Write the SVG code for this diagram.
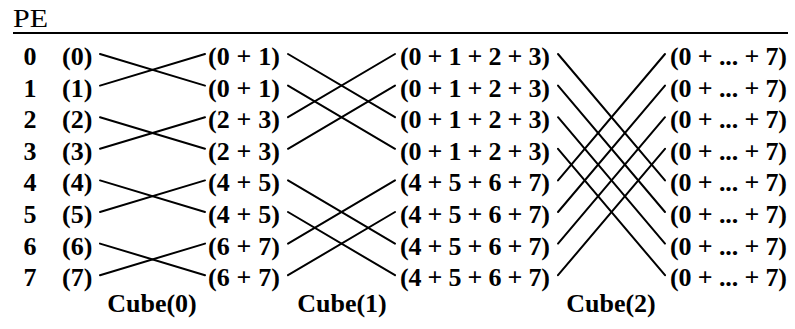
<svg xmlns="http://www.w3.org/2000/svg" width="795" height="329" viewBox="0 0 795 329">
<style>
.t{font-family:"Liberation Serif","Times New Roman",serif;font-weight:bold;font-size:26px;fill:#000}
.pe{font-family:"Liberation Serif","Times New Roman",serif;font-size:26px;fill:#000}
.c{stroke:#000;stroke-width:2;fill:none;stroke-linecap:round}
</style>
<rect width="795" height="329" fill="#fff"/>
<g id="header">
<text class="pe" x="13" y="27" textLength="35" lengthAdjust="spacingAndGlyphs">PE</text>
<line x1="13" y1="33" x2="788" y2="33" stroke="#000" stroke-width="2.2"/>
</g>
<g id="pe-labels" class="t" text-anchor="middle">
<text x="30" y="65">0</text><text x="30" y="96.6">1</text><text x="30" y="128.2">2</text><text x="30" y="159.8">3</text>
<text x="30" y="191.4">4</text><text x="30" y="223">5</text><text x="30" y="254.6">6</text><text x="30" y="286.2">7</text>
</g>
<g id="stage0" class="t">
<text x="62" y="65">(0)</text><text x="62" y="96.6">(1)</text><text x="62" y="128.2">(2)</text><text x="62" y="159.8">(3)</text>
<text x="62" y="191.4">(4)</text><text x="62" y="223">(5)</text><text x="62" y="254.6">(6)</text><text x="62" y="286.2">(7)</text>
</g>
<g id="stage1" class="t">
<text x="208" y="65" textLength="72">(0 + 1)</text><text x="208" y="96.6" textLength="72">(0 + 1)</text>
<text x="208" y="128.2" textLength="72">(2 + 3)</text><text x="208" y="159.8" textLength="72">(2 + 3)</text>
<text x="208" y="191.4" textLength="72">(4 + 5)</text><text x="208" y="223" textLength="72">(4 + 5)</text>
<text x="208" y="254.6" textLength="72">(6 + 7)</text><text x="208" y="286.2" textLength="72">(6 + 7)</text>
</g>
<g id="stage2" class="t">
<text x="400" y="65" textLength="150">(0 + 1 + 2 + 3)</text><text x="400" y="96.6" textLength="150">(0 + 1 + 2 + 3)</text>
<text x="400" y="128.2" textLength="150">(0 + 1 + 2 + 3)</text><text x="400" y="159.8" textLength="150">(0 + 1 + 2 + 3)</text>
<text x="400" y="191.4" textLength="150">(4 + 5 + 6 + 7)</text><text x="400" y="223" textLength="150">(4 + 5 + 6 + 7)</text>
<text x="400" y="254.6" textLength="150">(4 + 5 + 6 + 7)</text><text x="400" y="286.2" textLength="150">(4 + 5 + 6 + 7)</text>
</g>
<g id="stage3" class="t">
<text x="670" y="65" textLength="117">(0 + ... + 7)</text><text x="670" y="96.6" textLength="117">(0 + ... + 7)</text>
<text x="670" y="128.2" textLength="117">(0 + ... + 7)</text><text x="670" y="159.8" textLength="117">(0 + ... + 7)</text>
<text x="670" y="191.4" textLength="117">(0 + ... + 7)</text><text x="670" y="223" textLength="117">(0 + ... + 7)</text>
<text x="670" y="254.6" textLength="117">(0 + ... + 7)</text><text x="670" y="286.2" textLength="117">(0 + ... + 7)</text>
</g>
<g id="cube-labels" class="t" text-anchor="middle">
<text x="152" y="312">Cube(0)</text><text x="342" y="312">Cube(1)</text><text x="611" y="312">Cube(2)</text>
</g>
<g id="connectors" class="c">
<!-- Cube(0): i <-> i xor 1 -->
<line x1="100" y1="54" x2="205" y2="85.6"/><line x1="100" y1="85.6" x2="205" y2="54"/>
<line x1="100" y1="117.2" x2="205" y2="148.8"/><line x1="100" y1="148.8" x2="205" y2="117.2"/>
<line x1="100" y1="180.4" x2="205" y2="212"/><line x1="100" y1="212" x2="205" y2="180.4"/>
<line x1="100" y1="243.6" x2="205" y2="275.2"/><line x1="100" y1="275.2" x2="205" y2="243.6"/>
<!-- Cube(1): i <-> i xor 2 -->
<line x1="288" y1="54" x2="395" y2="117.2"/><line x1="288" y1="85.6" x2="395" y2="148.8"/>
<line x1="288" y1="117.2" x2="395" y2="54"/><line x1="288" y1="148.8" x2="395" y2="85.6"/>
<line x1="288" y1="180.4" x2="395" y2="243.6"/><line x1="288" y1="212" x2="395" y2="275.2"/>
<line x1="288" y1="243.6" x2="395" y2="180.4"/><line x1="288" y1="275.2" x2="395" y2="212"/>
<!-- Cube(2): i <-> i xor 4 -->
<line x1="558" y1="54" x2="665" y2="180.4"/><line x1="558" y1="85.6" x2="665" y2="212"/>
<line x1="558" y1="117.2" x2="665" y2="243.6"/><line x1="558" y1="148.8" x2="665" y2="275.2"/>
<line x1="558" y1="180.4" x2="665" y2="54"/><line x1="558" y1="212" x2="665" y2="85.6"/>
<line x1="558" y1="243.6" x2="665" y2="117.2"/><line x1="558" y1="275.2" x2="665" y2="148.8"/>
</g>
</svg>
